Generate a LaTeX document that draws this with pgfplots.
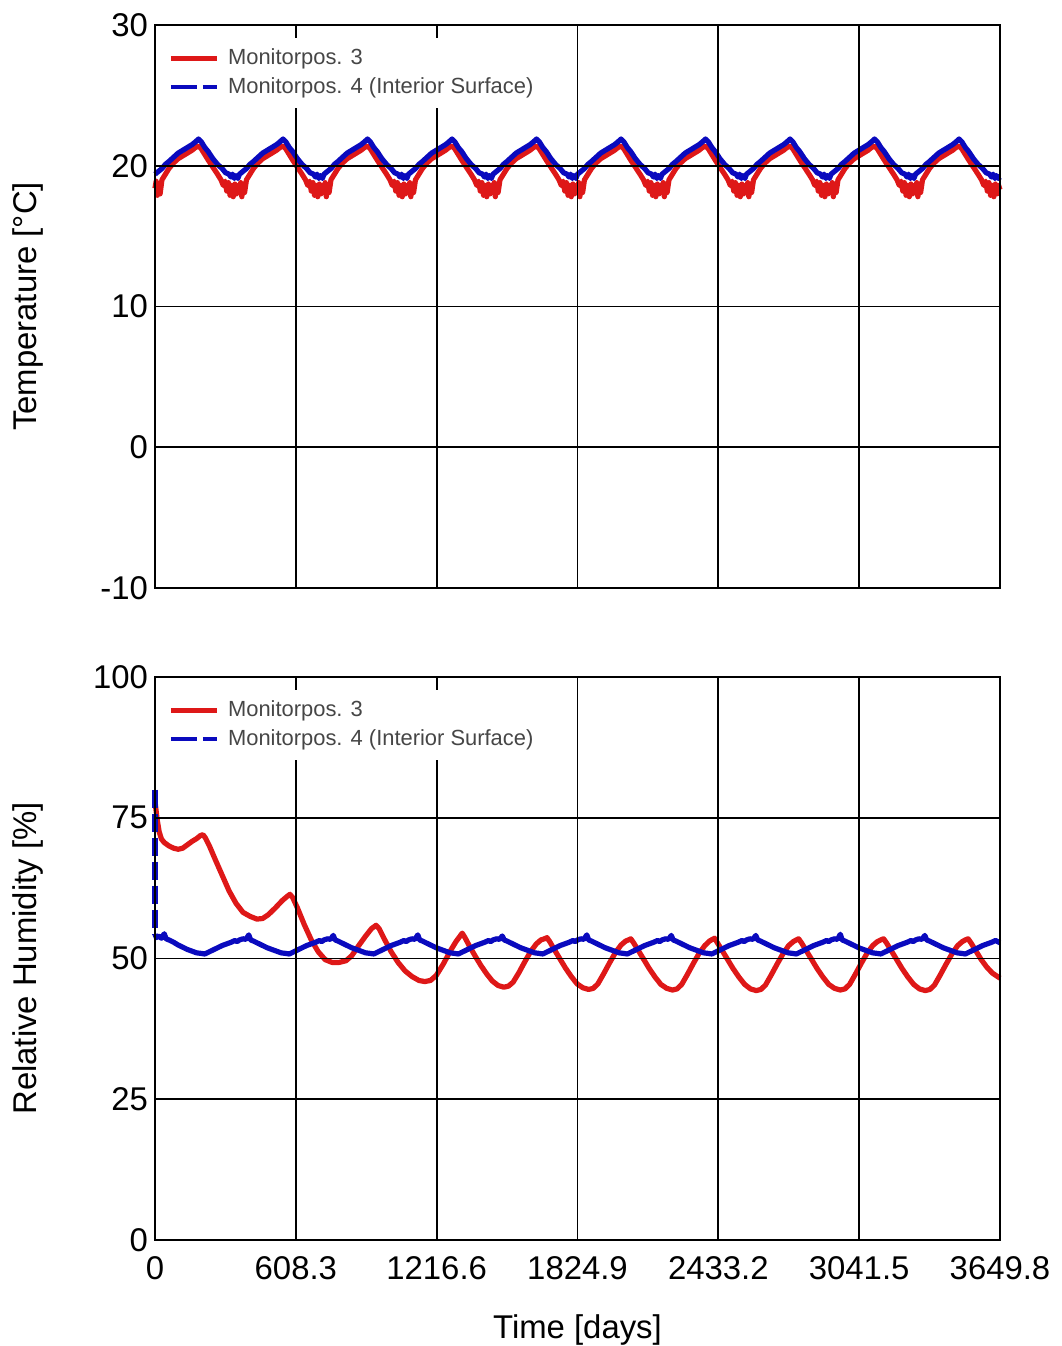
\documentclass[border=0pt]{standalone}
\usepackage{pgfplots}
\pgfplotsset{compat=1.18}
\usepackage{fontspec}
\setmainfont{Liberation Sans}
\definecolor{mred}{RGB}{222,24,24}
\definecolor{mblue}{RGB}{10,10,190}
\definecolor{legtext}{RGB}{70,70,70}

\pgfplotsset{
  legend image code/.code={\draw[#1] (0bp,0bp) -- (23bp,0bp); \path (26bp,0bp);},
  myaxis/.style={
    scale only axis, width=422.5bp, height=281.5bp,
    xmin=0, xmax=3649.8,
    xtick={0,608.3,1216.6,1824.9,2433.2,3041.5,3649.8},
    grid=major, major grid style={black, line width=0.85bp},
    axis line style={line width=1.1bp},
    axis on top,
    tick style={draw=none},
    /pgf/number format/assume math mode=true,
    tick label style={font=\fontsize{16.5}{18}\selectfont},
    xticklabel style={yshift=-5bp},
    label style={font=\fontsize{16.5}{19}\selectfont},
    clip=false,
    legend cell align=left,
    legend style={at={(axis description cs:0.006,0.978)}, anchor=north west,
      draw=none, fill=white, inner xsep=4bp, inner ysep=4bp, row sep=2bp,
      font=\fontsize{11}{13}\selectfont, text=legtext,
      nodes={inner sep=1.5bp}},
  },
  redline/.style={mred, line width=2.6bp, line join=round},
  blueline/.style={mblue, line width=2.6bp, line join=round},
}

\begin{document}
\begin{tikzpicture}
\useasboundingbox (-77.5bp,-53bp) rectangle (453.5bp,620bp);

% ---------------- Temperature ----------------
\begin{axis}[myaxis, at={(0bp,326bp)}, anchor=south west,
  ymin=-10, ymax=30, ytick={-10,0,10,20,30}, xticklabels={},
  ylabel={Temperature [°C]},
  ylabel style={at={(axis description cs:-0.150,0.5)}, anchor=center}]
\addlegendimage{mred, line width=2.3bp}
\addlegendentry{Monitorpos. 3}
\addlegendimage{mblue, line width=2.3bp, dash pattern=on 13bp off 3bp on 7bp off 3bp}
\addlegendentry{Monitorpos. 4 (Interior Surface)}

\addplot[redline, forget plot] coordinates {
(0,18.4) (5,18.9) (10,17.9) (16,18.7) (22,18.0) (30,19.0) (45,19.4) (60,19.8) (80,20.2) (100,20.5) (120,20.7) (140,20.9) (160,21.1) (175,21.3) (188,21.4) (200,21.2) (215,20.8) (230,20.4) (250,19.9) (270,19.4) (285,19.0) (295,18.6) (303,18.9) (310,18.2) (317,18.8) (324,17.9) (331,18.6) (338,17.8) (345,18.7) (352,18.0) (359,18.6)
(365,18.2) (370,18.8) (375,17.8) (381,18.7) (387,18.1) (395,19.0) (410,19.4) (425,19.8) (445,20.2) (465,20.5) (485,20.7) (505,20.9) (525,21.1) (540,21.3) (553,21.4) (565,21.2) (580,20.8) (595,20.4) (615,19.9) (635,19.4) (650,19.0) (660,18.6) (668,18.9) (675,18.2) (682,18.8) (689,17.9) (696,18.6) (703,17.8) (710,18.7) (717,18.0) (724,18.6)
(730,18.1) (735,18.8) (740,17.8) (746,18.6) (752,18.1) (760,19.0) (775,19.4) (790,19.8) (810,20.2) (830,20.5) (850,20.7) (870,20.9) (890,21.1) (905,21.3) (918,21.4) (930,21.2) (945,20.8) (960,20.4) (980,19.9) (1000,19.4) (1015,19.0) (1025,18.6) (1033,18.9) (1040,18.2) (1047,18.8) (1054,17.9) (1061,18.6) (1068,17.8) (1075,18.7) (1082,18.0) (1089,18.6)
(1095,18.2) (1100,18.8) (1105,17.8) (1111,18.7) (1117,18.1) (1125,19.0) (1140,19.4) (1155,19.8) (1175,20.2) (1195,20.5) (1215,20.7) (1235,20.9) (1255,21.1) (1270,21.3) (1283,21.4) (1295,21.2) (1310,20.8) (1325,20.4) (1345,19.9) (1365,19.4) (1380,19.0) (1390,18.6) (1398,18.9) (1405,18.2) (1412,18.8) (1419,17.9) (1426,18.6) (1433,17.8) (1440,18.7) (1447,18.0) (1454,18.6)
(1460,18.2) (1465,18.8) (1470,17.8) (1476,18.7) (1482,18.1) (1490,19.0) (1505,19.4) (1520,19.8) (1540,20.2) (1560,20.5) (1580,20.7) (1600,20.9) (1620,21.1) (1635,21.3) (1648,21.4) (1660,21.2) (1675,20.8) (1690,20.4) (1710,19.9) (1730,19.4) (1745,19.0) (1755,18.6) (1763,18.9) (1770,18.2) (1777,18.8) (1784,17.9) (1791,18.6) (1798,17.8) (1805,18.7) (1812,18.0) (1819,18.6)
(1825,18.2) (1830,18.8) (1835,17.8) (1841,18.7) (1847,18.1) (1855,19.0) (1870,19.4) (1885,19.8) (1905,20.2) (1925,20.5) (1945,20.7) (1965,20.9) (1985,21.1) (2000,21.3) (2013,21.4) (2025,21.2) (2040,20.8) (2055,20.4) (2075,19.9) (2095,19.4) (2110,19.0) (2120,18.6) (2128,18.9) (2135,18.2) (2142,18.8) (2149,17.9) (2156,18.6) (2163,17.8) (2170,18.7) (2177,18.0) (2184,18.6)
(2190,18.2) (2195,18.8) (2200,17.8) (2206,18.7) (2212,18.1) (2220,19.0) (2235,19.4) (2250,19.8) (2270,20.2) (2290,20.5) (2310,20.7) (2330,20.9) (2350,21.1) (2365,21.3) (2378,21.4) (2390,21.2) (2405,20.8) (2420,20.4) (2440,19.9) (2460,19.4) (2475,19.0) (2485,18.6) (2493,18.9) (2500,18.2) (2507,18.8) (2514,17.9) (2521,18.6) (2528,17.8) (2535,18.7) (2542,18.0) (2549,18.6)
(2555,18.2) (2560,18.8) (2565,17.8) (2571,18.7) (2577,18.1) (2585,19.0) (2600,19.4) (2615,19.8) (2635,20.2) (2655,20.5) (2675,20.7) (2695,20.9) (2715,21.1) (2730,21.3) (2743,21.4) (2755,21.2) (2770,20.8) (2785,20.4) (2805,19.9) (2825,19.4) (2840,19.0) (2850,18.6) (2858,18.9) (2865,18.2) (2872,18.8) (2879,17.9) (2886,18.6) (2893,17.8) (2900,18.7) (2907,18.0) (2914,18.6)
(2920,18.2) (2925,18.8) (2930,17.8) (2936,18.7) (2942,18.1) (2950,19.0) (2965,19.4) (2980,19.8) (3000,20.2) (3020,20.5) (3040,20.7) (3060,20.9) (3080,21.1) (3095,21.3) (3108,21.4) (3120,21.2) (3135,20.8) (3150,20.4) (3170,19.9) (3190,19.4) (3205,19.0) (3215,18.6) (3223,18.9) (3230,18.2) (3237,18.8) (3244,17.9) (3251,18.6) (3258,17.8) (3265,18.7) (3272,18.0) (3279,18.6)
(3285,18.2) (3290,18.8) (3295,17.8) (3301,18.7) (3307,18.1) (3315,19.0) (3330,19.4) (3345,19.8) (3365,20.2) (3385,20.5) (3405,20.7) (3425,20.9) (3445,21.1) (3460,21.3) (3473,21.4) (3485,21.2) (3500,20.8) (3515,20.4) (3535,19.9) (3555,19.4) (3570,19.0) (3580,18.6) (3588,18.9) (3595,18.2) (3602,18.8) (3609,17.9) (3616,18.6) (3623,17.8) (3630,18.7) (3637,18.0) (3644,18.6) (3649.8,18.3)
};
\addplot[blueline, forget plot] coordinates {
(0,19.4) (15,19.6) (30,19.8) (45,20.1) (60,20.3) (80,20.6) (100,20.9) (120,21.1) (140,21.3) (160,21.5) (175,21.7) (188,21.9) (200,21.7) (215,21.3) (230,21.0) (250,20.5) (270,20.1) (290,19.8) (305,19.5) (320,19.4) (328,19.2) (335,19.4) (343,19.1) (350,19.3) (358,19.1)
(365,19.4) (380,19.6) (395,19.8) (410,20.1) (425,20.3) (445,20.6) (465,20.9) (485,21.1) (505,21.3) (525,21.5) (540,21.7) (553,21.9) (565,21.7) (580,21.3) (595,21.0) (615,20.5) (635,20.1) (655,19.8) (670,19.5) (685,19.4) (693,19.2) (700,19.4) (708,19.1) (715,19.3) (723,19.1)
(730,19.4) (745,19.6) (760,19.8) (775,20.1) (790,20.3) (810,20.6) (830,20.9) (850,21.1) (870,21.3) (890,21.5) (905,21.7) (918,21.9) (930,21.7) (945,21.3) (960,21.0) (980,20.5) (1000,20.1) (1020,19.8) (1035,19.5) (1050,19.4) (1058,19.2) (1065,19.4) (1073,19.1) (1080,19.3) (1088,19.1)
(1095,19.4) (1110,19.6) (1125,19.8) (1140,20.1) (1155,20.3) (1175,20.6) (1195,20.9) (1215,21.1) (1235,21.3) (1255,21.5) (1270,21.7) (1283,21.9) (1295,21.7) (1310,21.3) (1325,21.0) (1345,20.5) (1365,20.1) (1385,19.8) (1400,19.5) (1415,19.4) (1423,19.2) (1430,19.4) (1438,19.1) (1445,19.3) (1453,19.1)
(1460,19.4) (1475,19.6) (1490,19.8) (1505,20.1) (1520,20.3) (1540,20.6) (1560,20.9) (1580,21.1) (1600,21.3) (1620,21.5) (1635,21.7) (1648,21.9) (1660,21.7) (1675,21.3) (1690,21.0) (1710,20.5) (1730,20.1) (1750,19.8) (1765,19.5) (1780,19.4) (1788,19.2) (1795,19.4) (1803,19.1) (1810,19.3) (1818,19.1)
(1825,19.4) (1840,19.6) (1855,19.8) (1870,20.1) (1885,20.3) (1905,20.6) (1925,20.9) (1945,21.1) (1965,21.3) (1985,21.5) (2000,21.7) (2013,21.9) (2025,21.7) (2040,21.3) (2055,21.0) (2075,20.5) (2095,20.1) (2115,19.8) (2130,19.5) (2145,19.4) (2153,19.2) (2160,19.4) (2168,19.1) (2175,19.3) (2183,19.1)
(2190,19.4) (2205,19.6) (2220,19.8) (2235,20.1) (2250,20.3) (2270,20.6) (2290,20.9) (2310,21.1) (2330,21.3) (2350,21.5) (2365,21.7) (2378,21.9) (2390,21.7) (2405,21.3) (2420,21.0) (2440,20.5) (2460,20.1) (2480,19.8) (2495,19.5) (2510,19.4) (2518,19.2) (2525,19.4) (2533,19.1) (2540,19.3) (2548,19.1)
(2555,19.4) (2570,19.6) (2585,19.8) (2600,20.1) (2615,20.3) (2635,20.6) (2655,20.9) (2675,21.1) (2695,21.3) (2715,21.5) (2730,21.7) (2743,21.9) (2755,21.7) (2770,21.3) (2785,21.0) (2805,20.5) (2825,20.1) (2845,19.8) (2860,19.5) (2875,19.4) (2883,19.2) (2890,19.4) (2898,19.1) (2905,19.3) (2913,19.1)
(2920,19.4) (2935,19.6) (2950,19.8) (2965,20.1) (2980,20.3) (3000,20.6) (3020,20.9) (3040,21.1) (3060,21.3) (3080,21.5) (3095,21.7) (3108,21.9) (3120,21.7) (3135,21.3) (3150,21.0) (3170,20.5) (3190,20.1) (3210,19.8) (3225,19.5) (3240,19.4) (3248,19.2) (3255,19.4) (3263,19.1) (3270,19.3) (3278,19.1)
(3285,19.4) (3300,19.6) (3315,19.8) (3330,20.1) (3345,20.3) (3365,20.6) (3385,20.9) (3405,21.1) (3425,21.3) (3445,21.5) (3460,21.7) (3473,21.9) (3485,21.7) (3500,21.3) (3515,21.0) (3535,20.5) (3555,20.1) (3575,19.8) (3590,19.5) (3605,19.4) (3613,19.2) (3620,19.4) (3628,19.1) (3635,19.3) (3643,19.1) (3649.8,19.2)
};
\end{axis}

% ---------------- Relative humidity ----------------
\begin{axis}[myaxis, at={(0bp,0bp)}, anchor=south west,
  ymin=0, ymax=100, ytick={0,25,50,75,100},
  xticklabels={0,608.3,1216.6,1824.9,2433.2,3041.5,3649.8},
  xlabel={Time [days]},
  xlabel style={at={(axis description cs:0.5,-0.160)}, anchor=center},
  ylabel={Relative Humidity [\%]},
  ylabel style={at={(axis description cs:-0.150,0.5)}, anchor=center}]
\addlegendimage{mred, line width=2.3bp}
\addlegendentry{Monitorpos. 3}
\addlegendimage{mblue, line width=2.3bp, dash pattern=on 13bp off 3bp on 7bp off 3bp}
\addlegendentry{Monitorpos. 4 (Interior Surface)}

\addplot[redline, forget plot] coordinates {
(0,78.0) (4,76.5) (10,74.5) (18,72.5) (28,71.2) (40,70.6) (60,70.0) (80,69.6) (100,69.4) (120,69.6) (140,70.2) (160,70.8) (180,71.3) (195,71.8) (207,72.0) (218,71.4) (235,70.0) (260,67.6) (290,64.8) (320,62.0) (350,59.8) (380,58.2) (410,57.5) (440,57.0) (465,57.1) (490,57.8) (520,59.0) (550,60.3) (570,61.0) (583,61.4) (595,60.8) (615,59.0) (645,56.0) (675,53.3) (705,51.2) (735,49.8) (765,49.3) (795,49.3) (825,49.6) (850,50.5) (880,52.3) (910,54.0) (935,55.3) (955,55.9) (968,55.3) (990,53.5) (1020,51.2) (1050,49.3) (1080,47.8) (1110,46.8) (1140,46.1) (1165,45.9) (1190,46.1) (1215,47.0) (1245,49.0) (1275,51.3) (1300,53.0) (1318,54.0) (1327,54.5)
(1339,53.7) (1357,52.3) (1382,50.5) (1407,48.8) (1432,47.3) (1457,46.0) (1482,45.2) (1507,44.9) (1527,45.1) (1547,45.8) (1572,47.5) (1597,49.4) (1622,51.2) (1647,52.6) (1667,53.3) (1682,53.5) (1693,53.7)
(1705,53.0) (1723,51.7) (1748,50.0) (1773,48.3) (1798,46.8) (1823,45.5) (1848,44.8) (1873,44.5) (1893,44.7) (1913,45.5) (1938,47.3) (1963,49.2) (1988,51.0) (2013,52.4) (2033,53.1) (2045,53.3) (2055,53.5)
(2067,52.8) (2085,51.6) (2110,49.9) (2135,48.2) (2160,46.7) (2185,45.4) (2210,44.7) (2235,44.4) (2255,44.6) (2275,45.4) (2300,47.2) (2325,49.1) (2350,50.9) (2375,52.3) (2395,53.1) (2408,53.4) (2417,53.6)
(2429,52.8) (2447,51.6) (2472,49.9) (2497,48.2) (2522,46.7) (2547,45.4) (2572,44.6) (2597,44.3) (2617,44.5) (2637,45.3) (2662,47.1) (2687,49.0) (2712,50.8) (2737,52.3) (2757,53.0) (2770,53.3) (2780,53.5)
(2792,52.8) (2810,51.6) (2835,49.9) (2860,48.2) (2885,46.7) (2910,45.4) (2935,44.7) (2960,44.4) (2980,44.6) (3000,45.4) (3025,47.2) (3050,49.1) (3075,50.9) (3100,52.3) (3120,53.0) (3135,53.3) (3147,53.5)
(3159,52.8) (3177,51.6) (3202,49.9) (3227,48.2) (3252,46.7) (3277,45.4) (3302,44.6) (3327,44.3) (3347,44.5) (3367,45.3) (3392,47.1) (3417,49.0) (3442,50.8) (3467,52.3) (3487,53.0) (3500,53.3) (3512,53.5)
(3524,52.8) (3542,51.6) (3567,49.9) (3592,48.5) (3617,47.4) (3649.8,46.5)
};
\addplot[mblue, line width=2.6bp, dash pattern=on 9bp off 3bp, forget plot] coordinates {(0,80.0) (0,54.3)};
\addplot[blueline, forget plot] coordinates {
(0,54.3) (6,53.7) (15,54.0) (28,53.6) (40,54.4) (48,53.5) (60,53.3) (80,52.9) (100,52.4) (120,52.0) (140,51.6) (160,51.3) (180,51.0) (200,50.9) (215,50.8) (230,51.1) (250,51.5) (270,51.9) (290,52.3) (310,52.6) (330,52.9) (345,53.2) (355,53.0)
(365,53.3) (380,53.5) (393,53.4) (405,54.2) (413,53.3) (425,53.1) (445,52.7) (465,52.3) (485,51.9) (505,51.6) (525,51.3) (545,51.0) (565,50.9) (580,50.8) (595,51.1) (615,51.5) (635,51.9) (655,52.3) (675,52.6) (695,52.9) (710,53.2) (720,53.0)
(730,53.3) (745,53.5) (758,53.4) (770,54.1) (778,53.3) (790,53.1) (810,52.7) (830,52.3) (850,51.9) (870,51.6) (890,51.3) (910,51.0) (930,50.9) (945,50.8) (960,51.1) (980,51.5) (1000,51.9) (1020,52.3) (1040,52.6) (1060,52.9) (1075,53.2) (1085,53.0)
(1095,53.3) (1110,53.5) (1123,53.4) (1135,54.2) (1143,53.3) (1155,53.1) (1175,52.7) (1195,52.3) (1215,51.9) (1235,51.6) (1255,51.3) (1275,51.0) (1295,50.9) (1310,50.8) (1325,51.1) (1345,51.5) (1365,51.9) (1385,52.3) (1405,52.6) (1425,52.9) (1440,53.2) (1450,53.0)
(1460,53.3) (1475,53.5) (1488,53.4) (1500,54.0) (1508,53.3) (1520,53.1) (1540,52.7) (1560,52.3) (1580,51.9) (1600,51.6) (1620,51.3) (1640,51.0) (1660,50.9) (1675,50.8) (1690,51.1) (1710,51.5) (1730,51.9) (1750,52.3) (1770,52.6) (1790,52.9) (1805,53.2) (1815,53.0)
(1825,53.3) (1840,53.5) (1853,53.4) (1865,54.2) (1873,53.3) (1885,53.1) (1905,52.7) (1925,52.3) (1945,51.9) (1965,51.6) (1985,51.3) (2005,51.0) (2025,50.9) (2040,50.8) (2055,51.1) (2075,51.5) (2095,51.9) (2115,52.3) (2135,52.6) (2155,52.9) (2170,53.2) (2180,53.0)
(2190,53.3) (2205,53.5) (2218,53.4) (2230,54.1) (2238,53.3) (2250,53.1) (2270,52.7) (2290,52.3) (2310,51.9) (2330,51.6) (2350,51.3) (2370,51.0) (2390,50.9) (2405,50.8) (2420,51.1) (2440,51.5) (2460,51.9) (2480,52.3) (2500,52.6) (2520,52.9) (2535,53.2) (2545,53.0)
(2555,53.3) (2570,53.5) (2583,53.4) (2595,54.1) (2603,53.3) (2615,53.1) (2635,52.7) (2655,52.3) (2675,51.9) (2695,51.6) (2715,51.3) (2735,51.0) (2755,50.9) (2770,50.8) (2785,51.1) (2805,51.5) (2825,51.9) (2845,52.3) (2865,52.6) (2885,52.9) (2900,53.2) (2910,53.0)
(2920,53.3) (2935,53.5) (2948,53.4) (2960,54.3) (2968,53.3) (2980,53.1) (3000,52.7) (3020,52.3) (3040,51.9) (3060,51.6) (3080,51.3) (3100,51.0) (3120,50.9) (3135,50.8) (3150,51.1) (3170,51.5) (3190,51.9) (3210,52.3) (3230,52.6) (3250,52.9) (3265,53.2) (3275,53.0)
(3285,53.3) (3300,53.5) (3313,53.4) (3325,54.1) (3333,53.3) (3345,53.1) (3365,52.7) (3385,52.3) (3405,51.9) (3425,51.6) (3445,51.3) (3465,51.0) (3485,50.9) (3500,50.8) (3515,51.1) (3535,51.5) (3555,51.9) (3575,52.3) (3595,52.6) (3615,52.9) (3630,53.2) (3649.8,52.8)
};
\end{axis}
\end{tikzpicture}
\end{document}
